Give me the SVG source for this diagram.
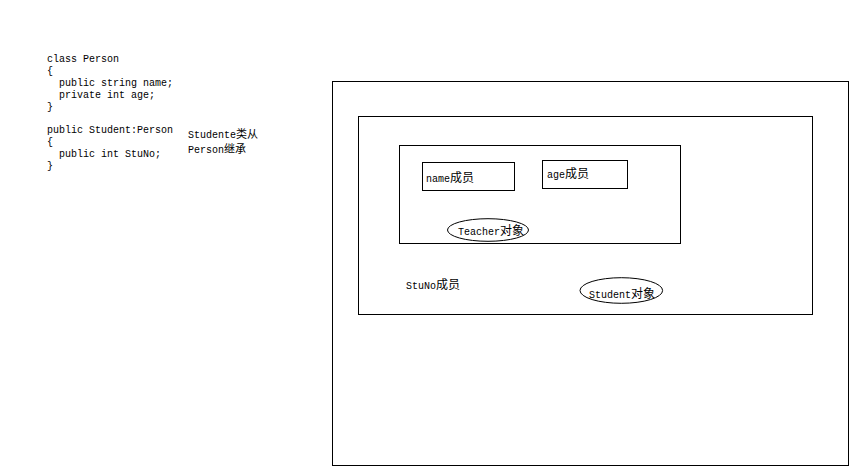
<svg xmlns="http://www.w3.org/2000/svg" width="856" height="474" viewBox="0 0 856 474">
<style>
.box{fill:none;stroke:#000;stroke-width:1}
.ell{fill:#fff;stroke:#000;stroke-width:1}
text{font-family:"Liberation Mono","Noto Sans CJK SC",monospace;font-size:10px;fill:#000}
.cjk{font-family:"Noto Sans CJK SC","Noto Sans CJK TC",sans-serif;font-size:12px}
.cjks{font-family:"Noto Sans CJK SC","Noto Sans CJK TC",sans-serif;font-size:11px}
</style>
<rect width="856" height="474" fill="#fff"/>
<g id="code">
<text x="47" y="62">class Person</text>
<text x="47" y="74">{</text>
<text x="59" y="86">public string name;</text>
<text x="59" y="98">private int age;</text>
<text x="47" y="110">}</text>
<text x="47" y="133">public Student:Person</text>
<text x="47" y="145">{</text>
<text x="59" y="157">public int StuNo;</text>
<text x="47" y="169">}</text>
</g>
<g id="note">
<text x="188" y="138">Studente<tspan class="cjks">类从</tspan></text>
<text x="188" y="153">Person<tspan class="cjks">继承</tspan></text>
</g>
<g id="memory">
<rect class="box" x="332.5" y="81.5" width="516" height="384"/>
</g>
<g id="student-object">
<rect class="box" x="358.5" y="116.5" width="454" height="198"/>
</g>
<g id="teacher-object">
<rect class="box" x="399.5" y="145.5" width="281" height="98"/>
</g>
<g id="name-member">
<rect class="box" x="422.5" y="162.5" width="92" height="28"/>
<text x="426" y="182">name<tspan class="cjk">成员</tspan></text>
</g>
<g id="age-member">
<rect class="box" x="542.5" y="160.5" width="85" height="28"/>
<text x="547" y="178">age<tspan class="cjk">成员</tspan></text>
</g>
<g id="teacher-label">
<ellipse class="ell" cx="488" cy="230" rx="40.5" ry="11.3"/>
<text x="458" y="234.5">Teacher<tspan class="cjk">对象</tspan></text>
</g>
<g id="stuno-member">
<text x="406" y="288.5">StuNo<tspan class="cjk">成员</tspan></text>
</g>
<g id="student-label">
<ellipse class="ell" cx="621.3" cy="290.5" rx="41.3" ry="12.8"/>
<text x="589" y="297.5">Student<tspan class="cjk">对象</tspan></text>
</g>
<g id="connectors"/>
</svg>
